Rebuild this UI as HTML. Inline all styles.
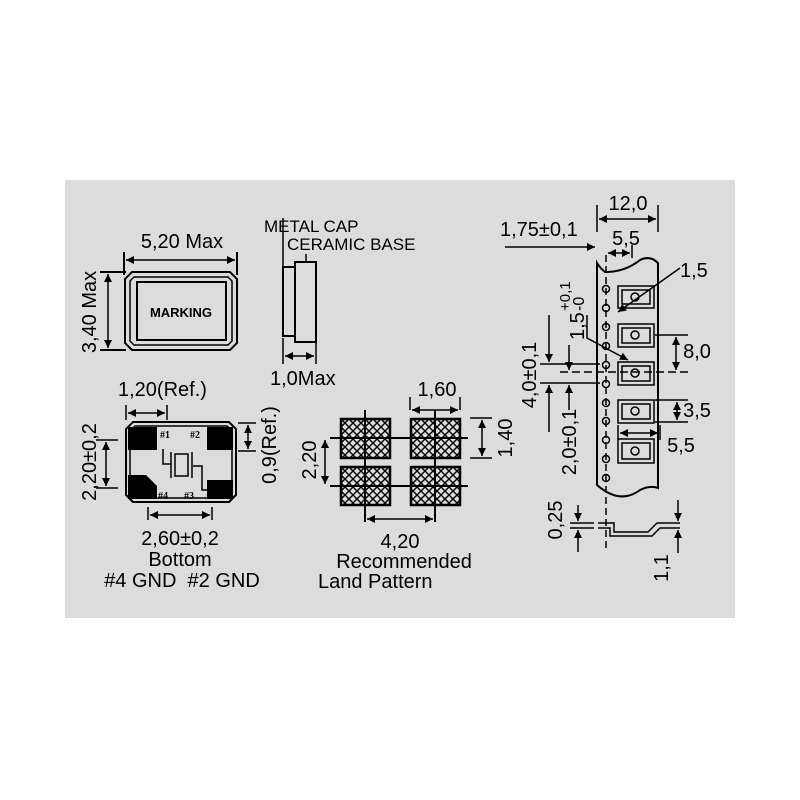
<!DOCTYPE html>
<html><head><style>
html,body{margin:0;padding:0;background:#fff;}
svg{display:block;font-family:"Liberation Sans",Arial,sans-serif;}
</style></head><body>
<svg width="800" height="800" viewBox="0 0 800 800">
<defs>
<marker id="a" viewBox="0 0 10 10" refX="10" refY="5" markerWidth="12" markerHeight="8" orient="auto-start-reverse" markerUnits="userSpaceOnUse"><path d="M0,0L10,5L0,10z" fill="#000"/></marker>
<pattern id="h" width="8" height="8" patternUnits="userSpaceOnUse" x="341" y="419"><path d="M0,0L8,8M8,0L0,8" stroke="#000" stroke-width="1.4"/></pattern>
</defs>
<rect x="65" y="180" width="670" height="438" fill="#dcdcdc"/>
<g stroke="#000" stroke-width="2" fill="none">
<path d="M132,272H230L237,279V343L230,350H132L125,343V279Z"/>
<path d="M134,277H228L232,281V341L228,345H134L130,341V281Z" stroke-width="1.5"/>
<rect x="137" y="282" width="89" height="58"/>
<path d="M124,252V275M237,252V275M100,272H126M100,350H126"/>
<path d="M126,260H235" marker-start="url(#a)" marker-end="url(#a)" stroke-width="1.5"/>
<path d="M108,274V348" marker-start="url(#a)" marker-end="url(#a)" stroke-width="1.5"/>
<rect x="283" y="267" width="12" height="69"/>
<rect x="295" y="262" width="21" height="80"/>
<path d="M283,218V267M306,254V262M283,338V364M316,342V364" stroke-width="1.5"/>
<path d="M285,356H314" marker-start="url(#a)" marker-end="url(#a)" stroke-width="1.5"/>
<path d="M133,422H229L236,429V495L229,502H133L126,495V429Z"/>
<path d="M135,426H227L232,431V493L227,498H135L130,493V431Z" stroke-width="1.5"/>
<path d="M126,405V420M167,405V420" stroke-width="1.5"/>
<path d="M96,440H118M96,488H118M238,423H256M238,451H256M148,507V520M212,507V520" stroke-width="1.5"/>
<path d="M106,442V486" marker-start="url(#a)" marker-end="url(#a)" stroke-width="1.5"/>
<path d="M248,425V449" marker-start="url(#a)" marker-end="url(#a)" stroke-width="1.5"/>
<path d="M150,515H210" marker-start="url(#a)" marker-end="url(#a)" stroke-width="1.5"/>
<path d="M128,413H165" marker-start="url(#a)" marker-end="url(#a)" stroke-width="1.5"/>
<path d="M163,449V464H171M193,466H202V490H207" stroke-width="1.5"/>
<rect x="175" y="454" width="13" height="22" stroke-width="1.5"/>
<path d="M171,452V478M192,452V478" stroke-width="1.5"/>
<path d="M410,397V410M460,397V410M470,418H492M470,458H492M365,505V522M435,505V522" stroke-width="1.5"/>
<path d="M412,410H458" marker-start="url(#a)" marker-end="url(#a)" stroke-width="1.5"/>
<path d="M482,420V456" marker-start="url(#a)" marker-end="url(#a)" stroke-width="1.5"/>
<path d="M325,440V484" marker-start="url(#a)" marker-end="url(#a)" stroke-width="1.5"/>
<path d="M367,519H433" marker-start="url(#a)" marker-end="url(#a)" stroke-width="1.5"/>
<path d="M597,263V485Q620,505 640,490Q650,485 658,488V263Q650,255 640,260Q625,272 605,272Q600,268 597,263Z"/>
<path d="M606,255V552" stroke-dasharray="7,4" stroke-width="1.5"/>
<path d="M597,205V232M658,205V232M632,245V258" stroke-width="1.5"/>
<path d="M599,219H656" marker-start="url(#a)" marker-end="url(#a)" stroke-width="1.5"/>
<path d="M505,247H595" marker-end="url(#a)" stroke-width="1.5"/>
<path d="M608,253H630" marker-start="url(#a)" marker-end="url(#a)" stroke-width="1.5"/>
<path d="M680,268L618,312" marker-end="url(#a)" stroke-width="1.5"/>
<path d="M587,315V338L628,360" marker-end="url(#a)" stroke-width="1.5"/>
<path d="M540,364H600M540,383H600M655,335H688M655,400H688M655,422H688M618,425V440M660,425V440" stroke-width="1.5"/>
<path d="M560,372H688" stroke-dasharray="8,4" stroke-width="1.5"/>
<path d="M549,315V362" marker-end="url(#a)" stroke-width="1.5"/>
<path d="M549,432V385" marker-end="url(#a)" stroke-width="1.5"/>
<path d="M569,345V370" marker-end="url(#a)" stroke-width="1.5"/>
<path d="M569,410V385" marker-end="url(#a)" stroke-width="1.5"/>
<path d="M676,337V370" marker-start="url(#a)" marker-end="url(#a)" stroke-width="1.5"/>
<path d="M677,402V420" marker-start="url(#a)" marker-end="url(#a)" stroke-width="1.5"/>
<path d="M620,433H658" marker-start="url(#a)" marker-end="url(#a)" stroke-width="1.5"/>
<g stroke-width="1.5">
<rect x="618" y="286" width="36" height="22"/><rect x="622" y="290" width="28" height="14"/><circle cx="635" cy="297" r="4"/>
<rect x="618" y="324" width="36" height="23"/><rect x="622" y="328" width="28" height="15"/><circle cx="635" cy="335" r="4"/>
<rect x="618" y="362" width="36" height="23"/><rect x="622" y="366" width="28" height="15"/><circle cx="635" cy="373" r="4"/>
<rect x="618" y="400" width="36" height="23"/><rect x="622" y="404" width="28" height="15"/><circle cx="635" cy="411" r="4"/>
<rect x="618" y="439" width="36" height="24"/><rect x="622" y="443" width="28" height="16"/><circle cx="635" cy="451" r="4"/>
</g>
<g stroke-width="1.5">
<circle cx="606" cy="289" r="3.5"/><circle cx="606" cy="308" r="3.5"/><circle cx="606" cy="327" r="3.5"/><circle cx="606" cy="346" r="3.5"/><circle cx="606" cy="365" r="3.5"/><circle cx="606" cy="384" r="3.5"/><circle cx="606" cy="403" r="3.5"/><circle cx="606" cy="421" r="3.5"/><circle cx="606" cy="440" r="3.5"/><circle cx="606" cy="459" r="3.5"/><circle cx="606" cy="478" r="3.5"/>
</g>
<path d="M570,523H594M570,528H594M598,523H614V532H648L657,523H680M598,528H610V536H652L660,528H680" stroke-width="1.5"/>
<path d="M578,505V521" marker-end="url(#a)" stroke-width="1.5"/>
<path d="M578,552V530" marker-end="url(#a)" stroke-width="1.5"/>
<path d="M678,500V521" marker-end="url(#a)" stroke-width="1.5"/>
<path d="M678,553V530" marker-end="url(#a)" stroke-width="1.5"/>
</g>
<g fill="#000">
<rect x="128" y="427" width="29" height="23"/>
<rect x="207" y="427" width="26" height="23"/>
<path d="M128,475H146L157,486V499H128Z"/>
<rect x="207" y="480" width="26" height="19"/>
</g>
<g fill="url(#h)" stroke="#000" stroke-width="2.5">
<rect x="341" y="419" width="49" height="39"/><rect x="411" y="419" width="49" height="39"/>
<rect x="341" y="467" width="49" height="38"/><rect x="411" y="467" width="49" height="38"/>
</g>
<path d="M365,410V522M435,410V522M330,438H468M330,486H468" stroke="#000" stroke-width="2" fill="none"/>
<g font-size="20" fill="#000">
<text x="182" y="248" text-anchor="middle">5,20 Max</text>
<text transform="translate(96,312) rotate(-90)" text-anchor="middle">3,40 Max</text>
<text x="264" y="232" font-size="17">METAL CAP</text>
<text x="287" y="250" font-size="17">CERAMIC BASE</text>
<text x="270" y="385">1,0Max</text>
<text x="118" y="396">1,20(Ref.)</text>
<text transform="translate(96,462) rotate(-90)" text-anchor="middle">2,20±0,2</text>
<text transform="translate(276,445) rotate(-90)" text-anchor="middle">0,9(Ref.)</text>
<text x="180" y="545" text-anchor="middle">2,60±0,2</text>
<text x="180" y="566" text-anchor="middle">Bottom</text>
<text x="182" y="587" text-anchor="middle" xml:space="preserve">#4 GND  #2 GND</text>
<text x="437" y="396" text-anchor="middle">1,60</text>
<text transform="translate(512,438) rotate(-90)" text-anchor="middle">1,40</text>
<text transform="translate(316,460) rotate(-90)" text-anchor="middle">2,20</text>
<text x="400" y="548" text-anchor="middle">4,20</text>
<text x="404" y="568" text-anchor="middle">Recommended</text>
<text x="318" y="588">Land Pattern</text>
<text x="628" y="210" text-anchor="middle">12,0</text>
<text x="500" y="236">1,75±0,1</text>
<text x="626" y="245" text-anchor="middle">5,5</text>
<text x="680" y="277">1,5</text>
<g transform="translate(584,340) rotate(-90)">
<text x="0" y="0">1,5</text>
<text x="29" y="0" font-size="16">-0</text>
<text x="29" y="-14" font-size="15">+0,1</text>
</g>
<text transform="translate(536,375) rotate(-90)" text-anchor="middle">4,0±0,1</text>
<text transform="translate(576,442) rotate(-90)" text-anchor="middle">2,0±0,1</text>
<text x="697" y="358" text-anchor="middle">8,0</text>
<text x="697" y="417" text-anchor="middle">3,5</text>
<text x="681" y="452" text-anchor="middle">5,5</text>
<text transform="translate(562,520) rotate(-90)" text-anchor="middle">0,25</text>
<text transform="translate(668,568) rotate(-90)" text-anchor="middle">1,1</text>
</g>
<text x="181" y="317" font-size="13" font-weight="bold" text-anchor="middle">MARKING</text>
<g font-size="10" font-family="Liberation Serif,serif" font-weight="bold">
<text x="160" y="438">#1</text><text x="190" y="438">#2</text>
<text x="158" y="499">#4</text><text x="184" y="499">#3</text>
</g>
</svg>
</body></html>
